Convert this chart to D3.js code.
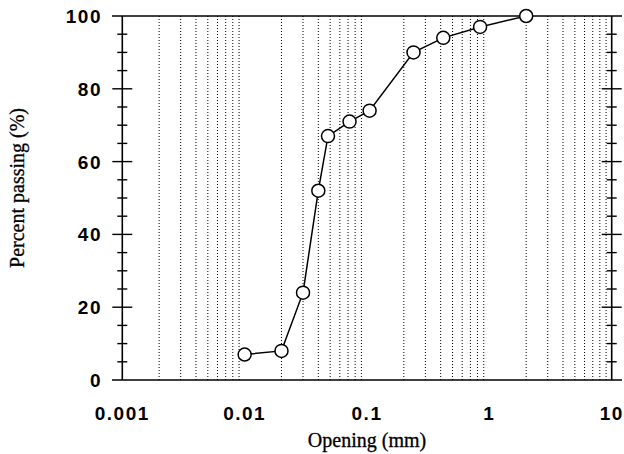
<!DOCTYPE html>
<html>
<head>
<meta charset="utf-8">
<script src="https://cdn.jsdelivr.net/npm/d3@7"></script>
<style>
  body { margin: 0; background: #fff; }
  svg { display: block; }
</style>
</head>
<body>
<svg width="624" height="454"></svg>
<script>
// sieve data: opening (mm) vs percent passing
const openings = [0.01, 0.02, 0.03, 0.04, 0.048, 0.072, 0.105, 0.24, 0.42, 0.84, 2];
const percents = [7, 8, 24, 52, 67, 71, 74, 90, 94, 97, 100];

const xTicks = [0.001, 0.01, 0.1, 1, 10];
const xTickLabels = ["0.001", "0.01", "0.1", "1", "10"];
const yTicks = [0, 20, 40, 60, 80, 100];

const svg = d3.select("svg");
const mLeft = 122.3, mRight = 611.7, mTop = 16, mBottom = 380;

const x = d3.scaleLog().domain([0.001, 10]).range([mLeft, mRight]);
const y = d3.scaleLinear().domain([0, 100]).range([mBottom, mTop]);

// dotted vertical grid at 2..9 of each decade
const grid = [];
xTicks.slice(0, -1).forEach(d => {
  for (let k = 2; k <= 9; k++) grid.push(d * k);
});
svg.append("g").selectAll("line").data(grid).join("line")
  .attr("x1", d => x(d)).attr("x2", d => x(d))
  .attr("y1", mTop).attr("y2", mBottom)
  .attr("stroke", "#000").attr("stroke-width", 1)
  .attr("stroke-dasharray", "1,2");

// frame: top and bottom lines run past the plot
const frame = svg.append("g").attr("stroke", "#000").attr("stroke-width", 1.6);
frame.append("line").attr("x1", 112).attr("x2", 622).attr("y1", mTop).attr("y2", mTop);
frame.append("line").attr("x1", 112).attr("x2", 622).attr("y1", mBottom).attr("y2", mBottom);
frame.append("line").attr("x1", mLeft).attr("x2", mLeft).attr("y1", mTop).attr("y2", mBottom);
frame.append("line").attr("x1", mRight).attr("x2", mRight).attr("y1", mTop).attr("y2", mBottom);

// y ticks every 5 on both sides, longer every 20
const minor = d3.range(5, 100, 5);
[mLeft, mRight].forEach(ax => {
  svg.append("g").selectAll("line").data(minor).join("line")
    .attr("x1", d => d % 20 === 0 ? ax - 10 : ax - 5)
    .attr("x2", d => d % 20 === 0 ? ax + 10 : ax + 5)
    .attr("y1", d => y(d)).attr("y2", d => y(d))
    .attr("stroke", "#000").attr("stroke-width", 1.4);
});

// y tick labels
svg.append("g").selectAll("text").data(yTicks).join("text")
  .attr("x", 102).attr("y", d => y(d) + 7)
  .attr("text-anchor", "end")
  .attr("font-family", "Liberation Sans, Arial, sans-serif")
  .attr("font-weight", "bold").attr("font-size", 19)
  .attr("letter-spacing", 1.5)
  .text(d => d);

// x tick labels
svg.append("g").selectAll("text").data(xTicks).join("text")
  .attr("x", d => x(d)).attr("y", 420)
  .attr("text-anchor", "middle")
  .attr("font-family", "Liberation Sans, Arial, sans-serif")
  .attr("font-weight", "bold").attr("font-size", 19)
  .attr("letter-spacing", 1.5)
  .text((d, i) => xTickLabels[i]);

// axis titles
svg.append("text")
  .attr("x", 367).attr("y", 447)
  .attr("text-anchor", "middle")
  .attr("font-family", "Liberation Serif, Times New Roman, serif")
  .attr("font-size", 20)
  .attr("stroke", "#000").attr("stroke-width", 0.3)
  .text("Opening (mm)");

svg.append("text")
  .attr("transform", "translate(24,188) rotate(-90)")
  .attr("text-anchor", "middle")
  .attr("font-family", "Liberation Serif, Times New Roman, serif")
  .attr("font-size", 20)
  .attr("stroke", "#000").attr("stroke-width", 0.3)
  .text("Percent passing (%)");

// curve and markers
const pts = openings.map((d, i) => ({o: d, p: percents[i]}));
const line = d3.line().x(d => x(d.o)).y(d => y(d.p));
svg.append("path")
  .attr("d", line(pts))
  .attr("fill", "none").attr("stroke", "#000").attr("stroke-width", 1.5);

svg.append("g").selectAll("circle").data(pts).join("circle")
  .attr("cx", d => x(d.o)).attr("cy", d => y(d.p))
  .attr("r", 6.5)
  .attr("fill", "#fff").attr("stroke", "#000").attr("stroke-width", 1.5);
</script>
</body>
</html>
